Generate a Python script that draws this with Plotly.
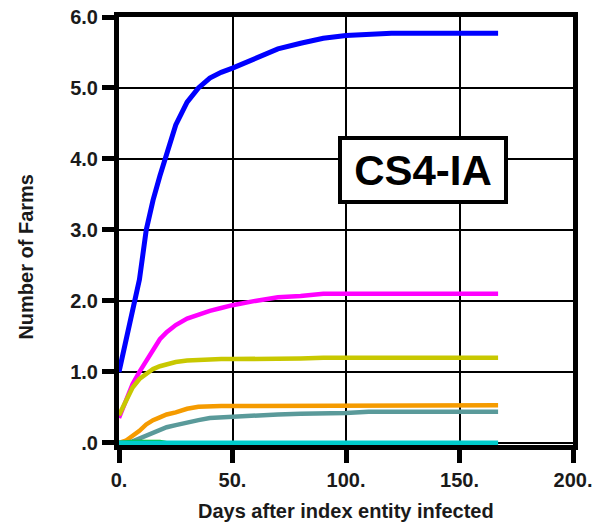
import plotly.graph_objects as go

# ---- data ----
days = [0, 3, 6, 9, 12, 15, 18, 21, 25, 30, 35, 40, 45, 50, 60, 70, 80, 90, 100, 110, 120, 140, 167]

blue =    [1.00, 1.45, 1.90, 2.30, 3.00, 3.42, 3.76, 4.05, 4.48, 4.80, 5.00, 5.14, 5.22, 5.28, 5.42, 5.55, 5.63, 5.70, 5.74, 5.76, 5.77, 5.77, 5.77]
magenta = [0.35, 0.60, 0.83, 1.00, 1.16, 1.33, 1.46, 1.56, 1.66, 1.75, 1.81, 1.86, 1.90, 1.94, 2.00, 2.05, 2.07, 2.10, 2.10, 2.10, 2.10, 2.10, 2.10]
yellow =  [0.39, 0.60, 0.78, 0.90, 0.98, 1.04, 1.08, 1.11, 1.14, 1.16, 1.17, 1.17, 1.18, 1.18, 1.18, 1.18, 1.19, 1.20, 1.20, 1.20, 1.20, 1.20, 1.20]
orange =  [0.00, 0.03, 0.10, 0.17, 0.26, 0.32, 0.36, 0.40, 0.43, 0.48, 0.51, 0.52, 0.52, 0.52, 0.52, 0.53, 0.53, 0.53, 0.53, 0.53, 0.53, 0.53, 0.53]
teal =    [0.00, 0.00, 0.02, 0.06, 0.11, 0.15, 0.19, 0.22, 0.25, 0.29, 0.32, 0.35, 0.36, 0.37, 0.39, 0.40, 0.41, 0.41, 0.42, 0.44, 0.44, 0.44, 0.44]
cyan =    [0.00] * len(days)

green_days = [0, 3, 6, 9, 12, 15, 18, 21]
green =      [0.00, 0.01, 0.015, 0.015, 0.015, 0.015, 0.015, 0.00]

x_tickvals = [0, 50, 100, 150, 200]
x_ticktext = ["0.", "50.", "100.", "150.", "200."]
y_tickvals = [0, 1, 2, 3, 4, 5, 6]
y_ticktext = [".0", "1.0", "2.0", "3.0", "4.0", "5.0", "6.0"]

x_title = "Days after index entity infected"
y_title = "Number of Farms"
label = "CS4-IA"

FONT = "Liberation Sans, Arial, sans-serif"

series = [
    (days, blue, "#0000ff", 5),
    (days, magenta, "#ff00ff", 4.5),
    (days, yellow, "#c8c800", 4.5),
    (days, orange, "#f59b00", 4.5),
    (days, teal, "#5a9a9a", 4.5),
    (green_days, green, "#00c000", 4),
    (days, cyan, "#00cccc", 4.5),
]

fig = go.Figure()
for xs, ys, col, w in series:
    fig.add_trace(go.Scatter(x=xs, y=ys, mode="lines",
                             line=dict(color=col, width=w),
                             showlegend=False, hoverinfo="skip"))

axis_common = dict(
    showline=True, linecolor="black", linewidth=5, mirror=True,
    showgrid=True, gridcolor="black", gridwidth=1.5,
    zeroline=False, automargin=False,
    ticks="outside", tickcolor="black", tickwidth=5,
    tickfont=dict(family=FONT, size=20, color="#1a1a1a", weight="bold"),
)

fig.update_xaxes(range=[0, 200], tickmode="array", tickvals=x_tickvals,
                 ticktext=x_ticktext, ticklen=13, **axis_common)
fig.update_yaxes(range=[-0.03, 6.0], tickmode="array", tickvals=y_tickvals,
                 ticktext=y_ticktext, ticklen=12, **axis_common)

fig.add_annotation(x=133.8, y=3.85, xref="x", yref="y", text=label,
                   showarrow=False,
                   font=dict(family=FONT, size=42, color="black", weight="bold"),
                   bgcolor="white", bordercolor="black", borderwidth=4,
                   borderpad=4, width=154, height=52)

fig.add_annotation(x=0.5, y=-0.155, xref="paper", yref="paper", text=x_title,
                   showarrow=False, xanchor="center", yanchor="middle",
                   font=dict(family=FONT, size=20, color="#1a1a1a", weight="bold"))
fig.add_annotation(x=-0.205, y=0.44, xref="paper", yref="paper", text=y_title,
                   showarrow=False, textangle=-90, xanchor="center", yanchor="middle",
                   font=dict(family=FONT, size=20, color="#1a1a1a", weight="bold"))

fig.update_layout(
    width=601, height=522,
    margin=dict(l=119, r=28, t=17, b=77),
    paper_bgcolor="white", plot_bgcolor="white",
    showlegend=False,
)

fig.write_html("out.html", config={"displayModeBar": False},
               post_script="document.body.style.margin='0';document.body.style.overflow='hidden';")
